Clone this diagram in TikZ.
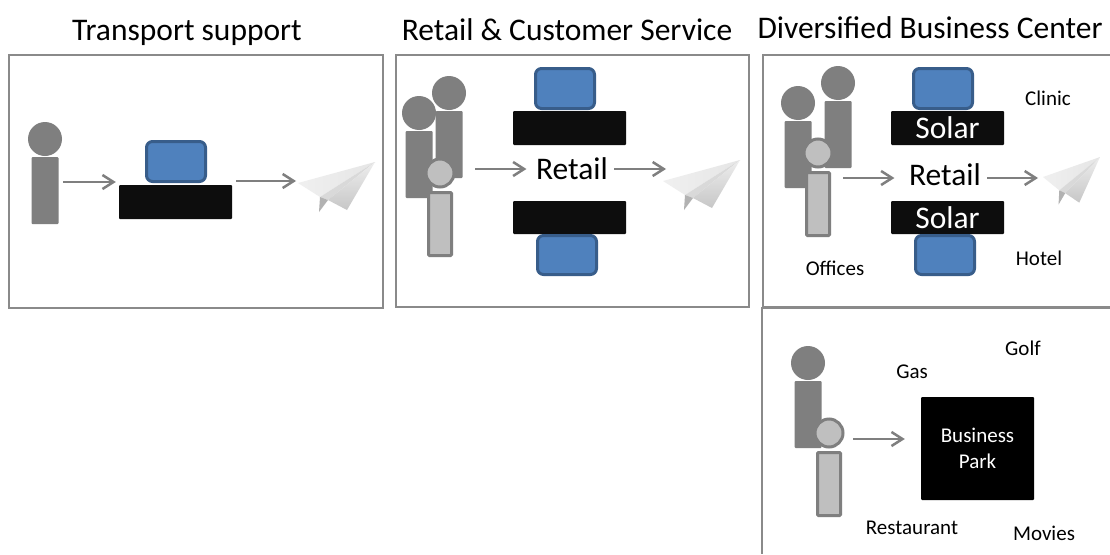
\documentclass[tikz,border=0pt]{standalone}
\usepackage{fontspec}
\setmainfont{Carlito}
\usetikzlibrary{arrows.meta}
\definecolor{frameg}{HTML}{8A8A8A}
\definecolor{persong}{HTML}{7F7F7F}
\definecolor{lightg}{HTML}{BFBFBF}
\definecolor{bluef}{HTML}{4F81BD}
\definecolor{blues}{HTML}{385D8A}
\definecolor{deskc}{HTML}{0D0D0D}
\tikzset{
  x=1pt,y=-1pt,
  frame/.style={draw=frameg,line width=1.5pt},
  bodyb/.style={fill=persong,rounded corners=1pt},
  heads/.style={circle,fill=persong,inner sep=0pt,minimum size=34pt},
  lbody/.style={fill=lightg,draw=persong,line width=3pt,rounded corners=1pt},
  lhead/.style={circle,fill=lightg,draw=persong,line width=3pt,inner sep=0pt,minimum size=28pt},
  screen/.style={fill=bluef,draw=blues,line width=3pt,rounded corners=6pt},
  desk/.style={fill=deskc,rounded corners=1pt,text=white},
  parkbox/.style={fill=black,rounded corners=1pt,text=white,align=center,font=\fontsize{21}{26}\selectfont},
  flow/.style={draw=persong,line width=2.5pt,-{Straight Barb[length=11pt,width=14pt,line width=2.5pt]}},
  title/.style={font=\fontsize{31.5}{36}\selectfont,text=black},
  big/.style={font=\fontsize{31.5}{36}\selectfont,inner sep=0pt},
  small/.style={font=\fontsize{21}{25}\selectfont,inner sep=0pt}
}
% name, x1, y1, x2, y2, style, text
\newcommand\bx[7]{%
  \pgfmathsetmacro\bw{#4-(#2)}\pgfmathsetmacro\bh{#5-(#3)}%
  \node[#6,inner sep=0pt,minimum width=\bw pt,minimum height=\bh pt] (#1) at ({(#2+#4)/2},{(#3+#5)/2}) {#7};}
% paper plane: name, x, y, xscale, yscale
\newcommand\paperplane[5]{%
  \coordinate (#1) at (#2,#3);
  \begin{scope}[shift={(#2,#3)},xscale=#4,yscale=#5]
    \path[left color=white!88!gray,right color=black!10] (0,0) -- (77,-21) -- (22,14) -- cycle;
    \path[fill=black!15] (22,14) -- (77,-21) -- (30,17) -- cycle;
    \path[fill=black!30] (22,14) -- (30,17) -- (21,29) -- cycle;
    \path[top color=black!7,bottom color=black!22] (30,17) -- (77,-21) -- (49,27) -- cycle;
  \end{scope}}
% name prefix, head x,y
\newcommand\person[3]{%
  \node[heads] (#1h) at (#2,#3) {};
  \bx{#1b}{#2-13.5}{#3+18}{#2+13.5}{#3+85}{bodyb}{}}
\newcommand\lperson[3]{%
  \node[lhead] (#1h) at (#2,#3) {};
  \bx{#1b}{#2-11.5}{#3+19.5}{#2+11.5}{#3+82.5}{lbody}{}}
\begin{document}
\begin{tikzpicture}
\useasboundingbox (0,0) rectangle (1110,554);
\fill[white] (0,0) rectangle (1110,554);

% titles
\node[title] (t1) at (187,33) {Transport support};
\node[title] (t2) at (567,30) {Retail \& Customer Service};
\node[title] (t3) at (930,28) {Diversified Business Center};

% panel frames
\draw[frame] (9,55) rectangle (383,308);
\draw[frame] (396,55) rectangle (749,307);
\draw[frame] (1110,55) -- (763,55) -- (763,307) -- (1110,307);
\draw[frame] (1110,308) -- (762,308) -- (762,554);

% panel 1
\person{pa}{45}{139}
\bx{sa}{146.5}{141.5}{205.5}{181.5}{screen}{}
\bx{da}{119}{185}{232}{219}{desk}{}
\paperplane{pla}{298}{183}{1}{1}
\draw[flow] ([xshift=4.5pt,yshift=8.5pt]pab.east) -- ([xshift=-3pt,yshift=20pt]da.west);
\draw[flow] ([xshift=4pt,yshift=21pt]da.east) -- ([xshift=-2pt,yshift=2pt]pla);

% panel 2
\person{pb}{449}{93}
\person{pc}{419}{113}
\lperson{pd}{440}{173}
\bx{sb}{535.5}{68.5}{594.5}{108.5}{screen}{}
\bx{db}{513}{111}{626}{145}{desk}{}
\node[big] (rb) at (572,169) {Retail};
\bx{dc}{513}{201}{626}{234}{desk}{}
\bx{sc}{537.5}{235.5}{596.5}{274.5}{screen}{}
\paperplane{plb}{663}{181}{1}{1}
\draw[flow] ([xshift=22pt,yshift=22pt]pdb.north east) -- ([xshift=-9.5pt]rb.west);
\draw[flow] ([xshift=6pt]rb.east) -- ([xshift=3pt,yshift=12pt]plb);

% panel 3
\person{pe}{838}{83}
\person{pf}{798}{103}
\lperson{pg}{818}{153}
\bx{se}{913.5}{68.5}{972.5}{108.5}{screen}{}
\bx{de}{891}{111}{1004}{145}{desk}{\fontsize{31.5}{36}\selectfont Solar}
\node[big] (re) at (945,175) {Retail};
\bx{df}{891}{201}{1004}{234}{desk}{\fontsize{31.5}{36}\selectfont Solar}
\bx{sf}{915.5}{235.5}{974.5}{274.5}{screen}{}
\paperplane{plc}{1043}{177}{0.74}{0.95}
\draw[flow] ([xshift=12pt,yshift=26pt]pgb.east) -- ([xshift=-14.5pt,yshift=-3pt]re.west);
\draw[flow] ([xshift=6pt,yshift=-3pt]re.east) -- ([xshift=-5pt,yshift=-1pt]plc);
\node[small] (clinic) at (1048,98) {Clinic};
\node[small] (hotel) at (1039,258) {Hotel};
\node[small] (offices) at (835,268) {Offices};

% panel 4
\person{ph}{808}{363}
\lperson{pi}{829}{433}
\bx{park}{921}{397}{1034}{500}{parkbox}{Business\\Park}
\draw[flow] ([xshift=8.5pt,yshift=-6pt]pih.east) -- ([xshift=-16pt,yshift=9.5pt]park.west);
\node[small] (golf) at (1023,348) {Golf};
\node[small] (gas) at (912,372) {Gas};
\node[small] (rest) at (912,528) {Restaurant};
\node[small] (movies) at (1044,533) {Movies};
\end{tikzpicture}
\end{document}
